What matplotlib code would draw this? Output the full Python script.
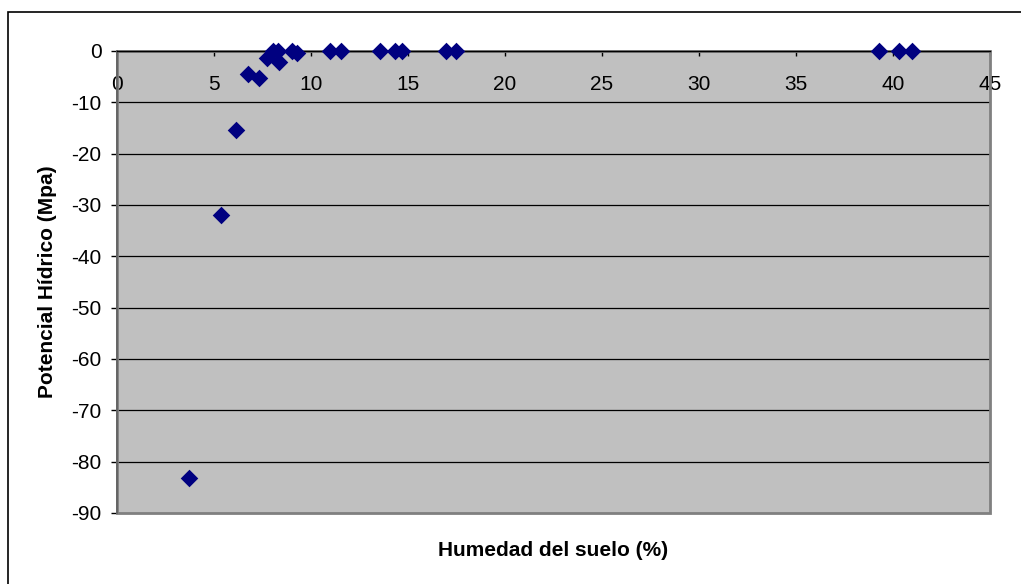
import matplotlib
matplotlib.use("Agg")
import matplotlib.pyplot as plt
from matplotlib.patches import Rectangle

# soil moisture (%) vs. water potential (MPa)
humedad = [3.73, 5.34, 6.13, 6.73, 7.32, 7.71, 8.06, 8.30, 8.37, 9.00, 9.26,
           10.98, 11.53, 13.56, 14.33, 14.67, 16.94, 17.47,
           39.3, 40.3, 41.0]
potencial = [-83.1, -31.9, -15.4, -4.5, -5.2, -1.4, 0.0, 0.0, -2.1, 0.0, -0.4,
             0.0, 0.0, 0.0, 0.0, 0.0, 0.0, 0.0,
             0.0, 0.0, 0.0]

x_ticks = list(range(0, 50, 5))
y_ticks = list(range(-90, 10, 10))

plt.rcParams['font.family'] = ['Liberation Sans', 'DejaVu Sans']
plt.rcParams['axes.unicode_minus'] = False

fig = plt.figure(figsize=(10.21, 5.84), dpi=100)
ax = fig.add_axes([117 / 1021, 1 - 513 / 584, 873 / 1021, 462 / 584])

# outer chart frame
fig.patches.append(Rectangle((8 / 1021, -0.1), 1.2, 1 - 12 / 584 + 0.1,
                             transform=fig.transFigure, fill=False,
                             edgecolor='black', linewidth=1.2))

ax.set_facecolor('#C0C0C0')
ax.set_xlim(0, 45)
ax.set_ylim(-90, 0)

for y in y_ticks[1:-1]:
    ax.axhline(y, color='black', linewidth=0.9, zorder=1)

# grey plot-area border
ax.add_patch(Rectangle((0, 0), 1, 1, transform=ax.transAxes, fill=False,
                       edgecolor='#808080', linewidth=2.0, zorder=2,
                       clip_on=False))

ax.scatter(humedad, potencial, marker='D', s=80, color='#000080',
           linewidths=0, zorder=5, clip_on=False)

# x axis crosses at y = 0
ax.spines['bottom'].set_position(('data', 0))
ax.spines['bottom'].set_color('black')
ax.spines['bottom'].set_linewidth(1.0)
ax.spines['top'].set_visible(False)
ax.spines['right'].set_visible(False)
ax.spines['left'].set_color('#606060')
ax.spines['left'].set_linewidth(1.2)

ax.set_xticks(x_ticks)
ax.set_yticks(y_ticks)
ax.tick_params(axis='x', direction='out', length=3.6, width=1, pad=13.5,
               labelsize=15, color='black')
ax.tick_params(axis='y', direction='out', length=4.5, width=1, pad=6.5,
               labelsize=15, color='black')

fig.text(553 / 1021, 1 - 550 / 584, 'Humedad del suelo (%)', ha='center',
         va='center', fontsize=15, fontweight='bold')
fig.text(47.8 / 1021, 1 - 282 / 584, 'Potencial Hídrico (Mpa)', ha='center',
         va='center', rotation=90, fontsize=15, fontweight='bold')

fig.savefig('out.png', dpi=100)
